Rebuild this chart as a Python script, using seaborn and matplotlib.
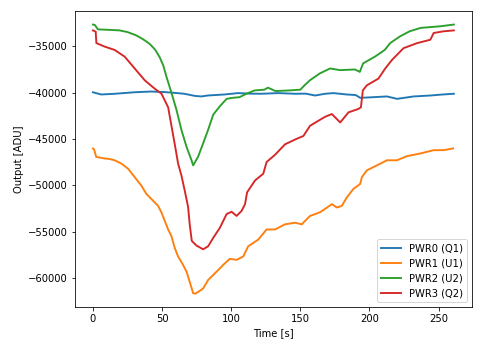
import matplotlib
matplotlib.use("Agg")
import matplotlib.pyplot as plt
import pandas as pd
import seaborn as sns

# Detector outputs (time [s], output [ADU]) for the four power channels
pwr0 = [(0, -39950), (6, -40190), (16, -40110), (30, -39950), (42, -39870), (52, -39930),
        (58, -40000), (66, -40110), (74, -40350), (78.5, -40400), (83, -40300), (95, -40190),
        (105, -40040), (114, -40100), (122, -40110), (134, -40040), (146, -40110), (154, -40100),
        (160.6, -40300), (168, -40110), (174, -40040), (183.6, -40190), (190, -40250),
        (193.3, -40550), (203, -40480), (212.6, -40400), (220, -40660), (232, -40400),
        (244, -40300), (252, -40200), (261, -40110)]

pwr1 = [(0, -46010), (0.8, -46100), (2.4, -46930), (5, -47000), (8.5, -47100), (12, -47150),
        (15.7, -47290), (20.6, -47650), (25.4, -48200), (30.2, -49110), (35, -50020),
        (38.7, -50930), (43.5, -51660), (47.1, -52210), (49.6, -52940), (52, -53850),
        (54.4, -54760), (56.8, -55490), (59.2, -56770), (61.6, -57680), (65.2, -58590),
        (67.7, -59320), (70, -60420), (72.5, -61650), (74, -61690), (76, -61510),
        (79.7, -61140), (83.3, -60220), (89.4, -59320), (94.2, -58590), (99, -57930),
        (103.9, -58040), (108.7, -57680), (112.3, -56580), (119.6, -55850), (125.6, -54760),
        (131.7, -54760), (138.9, -54210), (146.2, -54030), (151, -54210), (157, -53300),
        (164.3, -52900), (172.8, -52030), (176.4, -52390), (180, -52210), (183.6, -51300),
        (188.4, -50380), (193.3, -49840), (194.5, -49110), (198.1, -48380), (205.4, -47840),
        (212.6, -47290), (219.9, -47290), (227, -46850), (236.7, -46560), (246.4, -46200),
        (253.6, -46200), (260.5, -46010)]

pwr2 = [(0, -32640), (1.5, -32700), (3.6, -33160), (10, -33200), (19.3, -33270), (25, -33450),
        (31.4, -33810), (36, -34200), (41, -34720), (45, -35350), (48.3, -36170), (51, -37100),
        (53, -38190), (56.8, -40000), (60.4, -41830), (64, -44010), (67.7, -45840),
        (71.3, -47290), (72.5, -47840), (76, -46930), (79.7, -45470), (83.3, -44010),
        (87, -42370), (91.8, -41460), (96.7, -40660), (101, -40550), (106, -40480),
        (111, -40110), (117, -39750), (124, -39670), (126.6, -39450), (132, -39820),
        (142, -39750), (150, -39670), (153, -39200), (157, -38650), (164, -37920),
        (171.5, -37380), (178.7, -37560), (189.5, -37490), (193, -37750), (195.4, -36830),
        (204, -36100), (211, -35380), (215, -34640), (222, -33920), (229, -33370),
        (237, -33000), (251, -32830), (261, -32640)]

pwr3 = [(0, -33270), (2, -33400), (2.5, -34640), (8.5, -35020), (15.7, -35380), (23, -36110),
        (30.2, -37380), (37.5, -38660), (44.7, -39560), (49.6, -40110), (54.4, -41570),
        (56.8, -43570), (59.2, -45570), (61.6, -47650), (64, -48930), (66.4, -50570),
        (68.8, -52300), (70, -54210), (71.5, -56000), (74.9, -56500), (79.7, -56900),
        (83.3, -56580), (87, -55670), (91.8, -54580), (96.7, -53100), (100.3, -52850),
        (103.9, -53300), (107.5, -52760), (110, -52030), (111.5, -50750), (117.2, -49480),
        (123.2, -48740), (125.6, -47480), (131.7, -46700), (138.9, -45570), (146.2, -45050),
        (152.2, -44670), (157, -43570), (163, -43030), (168, -42590), (172.8, -42300),
        (178.8, -43210), (184.8, -42120), (192, -41750), (193.8, -41570), (195.2, -39750),
        (198.1, -39200), (206.5, -38470), (211.4, -37380), (216.2, -36470), (224.6, -35190),
        (234.3, -34650), (244, -34280), (246.4, -33550), (253.6, -33370), (261, -33270)]

channel_names = ["PWR0 (Q1)", "PWR1 (U1)", "PWR2 (U2)", "PWR3 (Q2)"]
channel_colors = ["#1f77b4", "#ff7f0e", "#2ca02c", "#d62728"]

frames = []
for name, series in zip(channel_names, [pwr0, pwr1, pwr2, pwr3]):
    df = pd.DataFrame(series, columns=["Time [s]", "Output [ADU]"])
    df["channel"] = name
    frames.append(df)
data = pd.concat(frames, ignore_index=True)

fig = plt.figure(figsize=(483 / 72, 347 / 72), dpi=72)
ax = fig.add_axes([0.155, 0.115, 0.822, 0.853])

sns.lineplot(data=data, x="Time [s]", y="Output [ADU]", hue="channel",
             hue_order=channel_names, palette=channel_colors,
             estimator=None, sort=True, linewidth=1.9, ax=ax)

ax.legend(loc="lower right", title=None)
ax.set_xlabel("Time [s]")
ax.set_ylabel("Output [ADU]")

fig.savefig("out.png", dpi=72)
